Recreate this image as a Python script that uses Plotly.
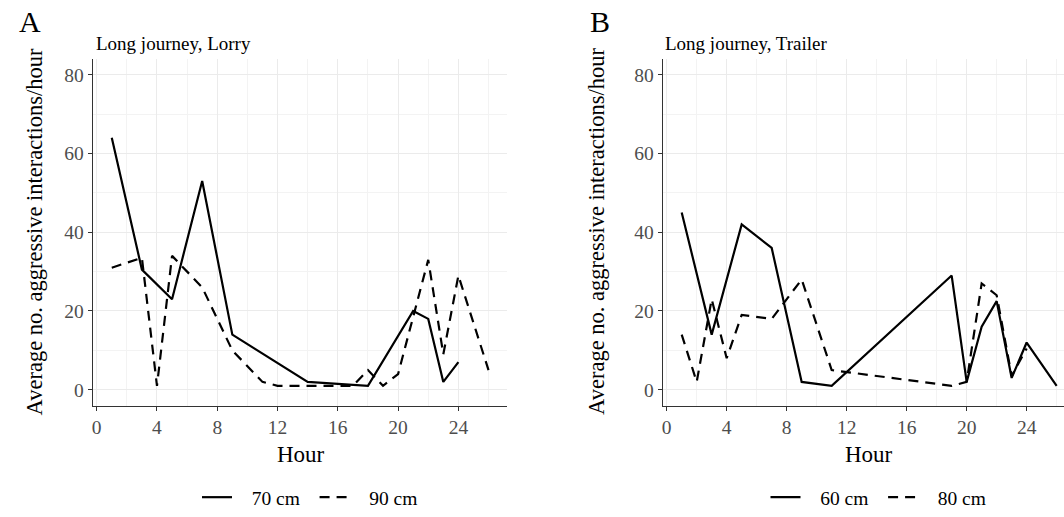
import plotly.graph_objects as go

# Panel A: long journey, lorry
lorry_70_hours = [1, 3, 5, 7, 9, 14, 18, 21, 22, 23, 24]
lorry_70_values = [64, 30.5, 23, 53, 14, 2, 1, 20, 18, 2, 7]
lorry_90_hours = [1, 3, 4, 5, 7, 9, 11, 12, 17, 18, 19, 20, 22, 23, 24, 26]
lorry_90_values = [31, 33.5, 1, 34, 26, 10, 2, 1, 1, 5, 1, 4, 33, 9, 29, 5]

# Panel B: long journey, trailer
trailer_60_hours = [1, 3, 5, 7, 9, 11, 19, 20, 21, 22, 23, 24, 26]
trailer_60_values = [45, 14, 42, 36, 2, 1, 29, 2, 16, 22.5, 3, 12, 1]
trailer_80_hours = [1, 2, 3, 4, 5, 7, 9, 11, 19, 20, 21, 22, 23, 24]
trailer_80_values = [14, 2, 23, 8, 19, 18, 28, 5, 1, 2, 27, 24, 3.5, 10.5]

x_ticks = [0, 4, 8, 12, 16, 20, 24]
y_ticks = [0, 20, 40, 60, 80]

SERIF = "Liberation Serif, Times New Roman, serif"
W, H = 1064, 517
NBSP = "\u00a0"

fig = go.Figure()

solid = dict(color="black", width=2.2)
dashed = dict(color="black", width=2.2, dash="10px,7px")

# legend labels padded with non-breaking spaces to widen the key spacing
fig.add_trace(go.Scatter(x=lorry_70_hours, y=lorry_70_values, mode="lines",
                         name=NBSP * 3 + "70 cm" + NBSP * 2, line=solid,
                         xaxis="x", yaxis="y", legend="legend"))
fig.add_trace(go.Scatter(x=lorry_90_hours, y=lorry_90_values, mode="lines",
                         name=NBSP * 3 + "90 cm", line=dashed,
                         xaxis="x", yaxis="y", legend="legend"))
fig.add_trace(go.Scatter(x=trailer_60_hours, y=trailer_60_values, mode="lines",
                         name=NBSP * 3 + "60 cm" + NBSP * 2, line=solid,
                         xaxis="x2", yaxis="y2", legend="legend2"))
fig.add_trace(go.Scatter(x=trailer_80_hours, y=trailer_80_values, mode="lines",
                         name=NBSP * 3 + "80 cm", line=dashed,
                         xaxis="x2", yaxis="y2", legend="legend2"))


def px_x(p):
    return p / W


def px_y(p):
    return 1 - p / H


tick_font = dict(family=SERIF, size=19.5, color="#4d4d4d")
common_x = dict(
    tickmode="array", tickvals=x_ticks, ticks="outside", ticklen=4,
    tickcolor="#333333", tickwidth=1.2, tickfont=tick_font,
    showline=True, linecolor="#333333", linewidth=1.4,
    showgrid=True, gridcolor="#ebebeb", gridwidth=1.2, zeroline=False,
    minor=dict(dtick=2, tick0=0, showgrid=True, gridcolor="#f3f3f3", gridwidth=1),
)
common_y = dict(
    tickmode="array", tickvals=y_ticks, ticks="outside", ticklen=4,
    tickcolor="#333333", tickwidth=1.2, tickfont=tick_font,
    showline=True, linecolor="#333333", linewidth=1.4,
    showgrid=True, gridcolor="#ebebeb", gridwidth=1.2, zeroline=False,
    range=[-4, 84],
    minor=dict(dtick=10, tick0=0, showgrid=True, gridcolor="#f3f3f3", gridwidth=1),
    domain=[px_y(412.7), px_y(60)],
)

legend_style = dict(
    orientation="h", xanchor="center", yanchor="middle", y=px_y(506.5),
    font=dict(family=SERIF, size=19.5, color="black"),
    bgcolor="rgba(0,0,0,0)",
)

fig.update_layout(
    width=W, height=H,
    margin=dict(l=0, r=0, t=0, b=0),
    paper_bgcolor="white", plot_bgcolor="white",
    font=dict(family=SERIF, color="black"),
    xaxis=dict(common_x, domain=[px_x(92.93), px_x(507.36)],
               range=[-0.25, 27.25], anchor="y"),
    yaxis=dict(common_y, anchor="x"),
    xaxis2=dict(common_x, domain=[px_x(662.95), 1.0],
                range=[-0.25, 26.49], anchor="y2"),
    yaxis2=dict(common_y, anchor="x2"),
    legend=dict(legend_style, x=px_x(310)),
    legend2=dict(legend_style, x=px_x(878.5)),
    showlegend=True,
)

annotations = [
    # panel letters
    dict(text="A", x=px_x(30), y=px_y(22), font=dict(size=30)),
    dict(text="B", x=px_x(600), y=px_y(22), font=dict(size=30)),
    # panel titles
    dict(text="Long journey, Lorry", x=px_x(94), y=px_y(44), xanchor="left",
         font=dict(size=19)),
    dict(text="Long journey, Trailer", x=px_x(663), y=px_y(44), xanchor="left",
         font=dict(size=19)),
    # y-axis titles
    dict(text="Average no. aggressive interactions/hour", x=px_x(34.5),
         y=px_y(236), textangle=-90, font=dict(size=22.5)),
    dict(text="Average no. aggressive interactions/hour", x=px_x(597),
         y=px_y(236), textangle=-90, font=dict(size=22.5)),
    # x-axis titles
    dict(text="Hour", x=px_x(300.8), y=px_y(463), font=dict(size=23)),
    dict(text="Hour", x=px_x(868.5), y=px_y(463), font=dict(size=23)),
]
for a in annotations:
    a.setdefault("xanchor", "center")
    a["yanchor"] = "middle"
    a["xref"] = "paper"
    a["yref"] = "paper"
    a["showarrow"] = False
    a["font"] = dict(family=SERIF, color="black", **a["font"])
fig.update_layout(annotations=annotations)

fig.write_html("out.html")
